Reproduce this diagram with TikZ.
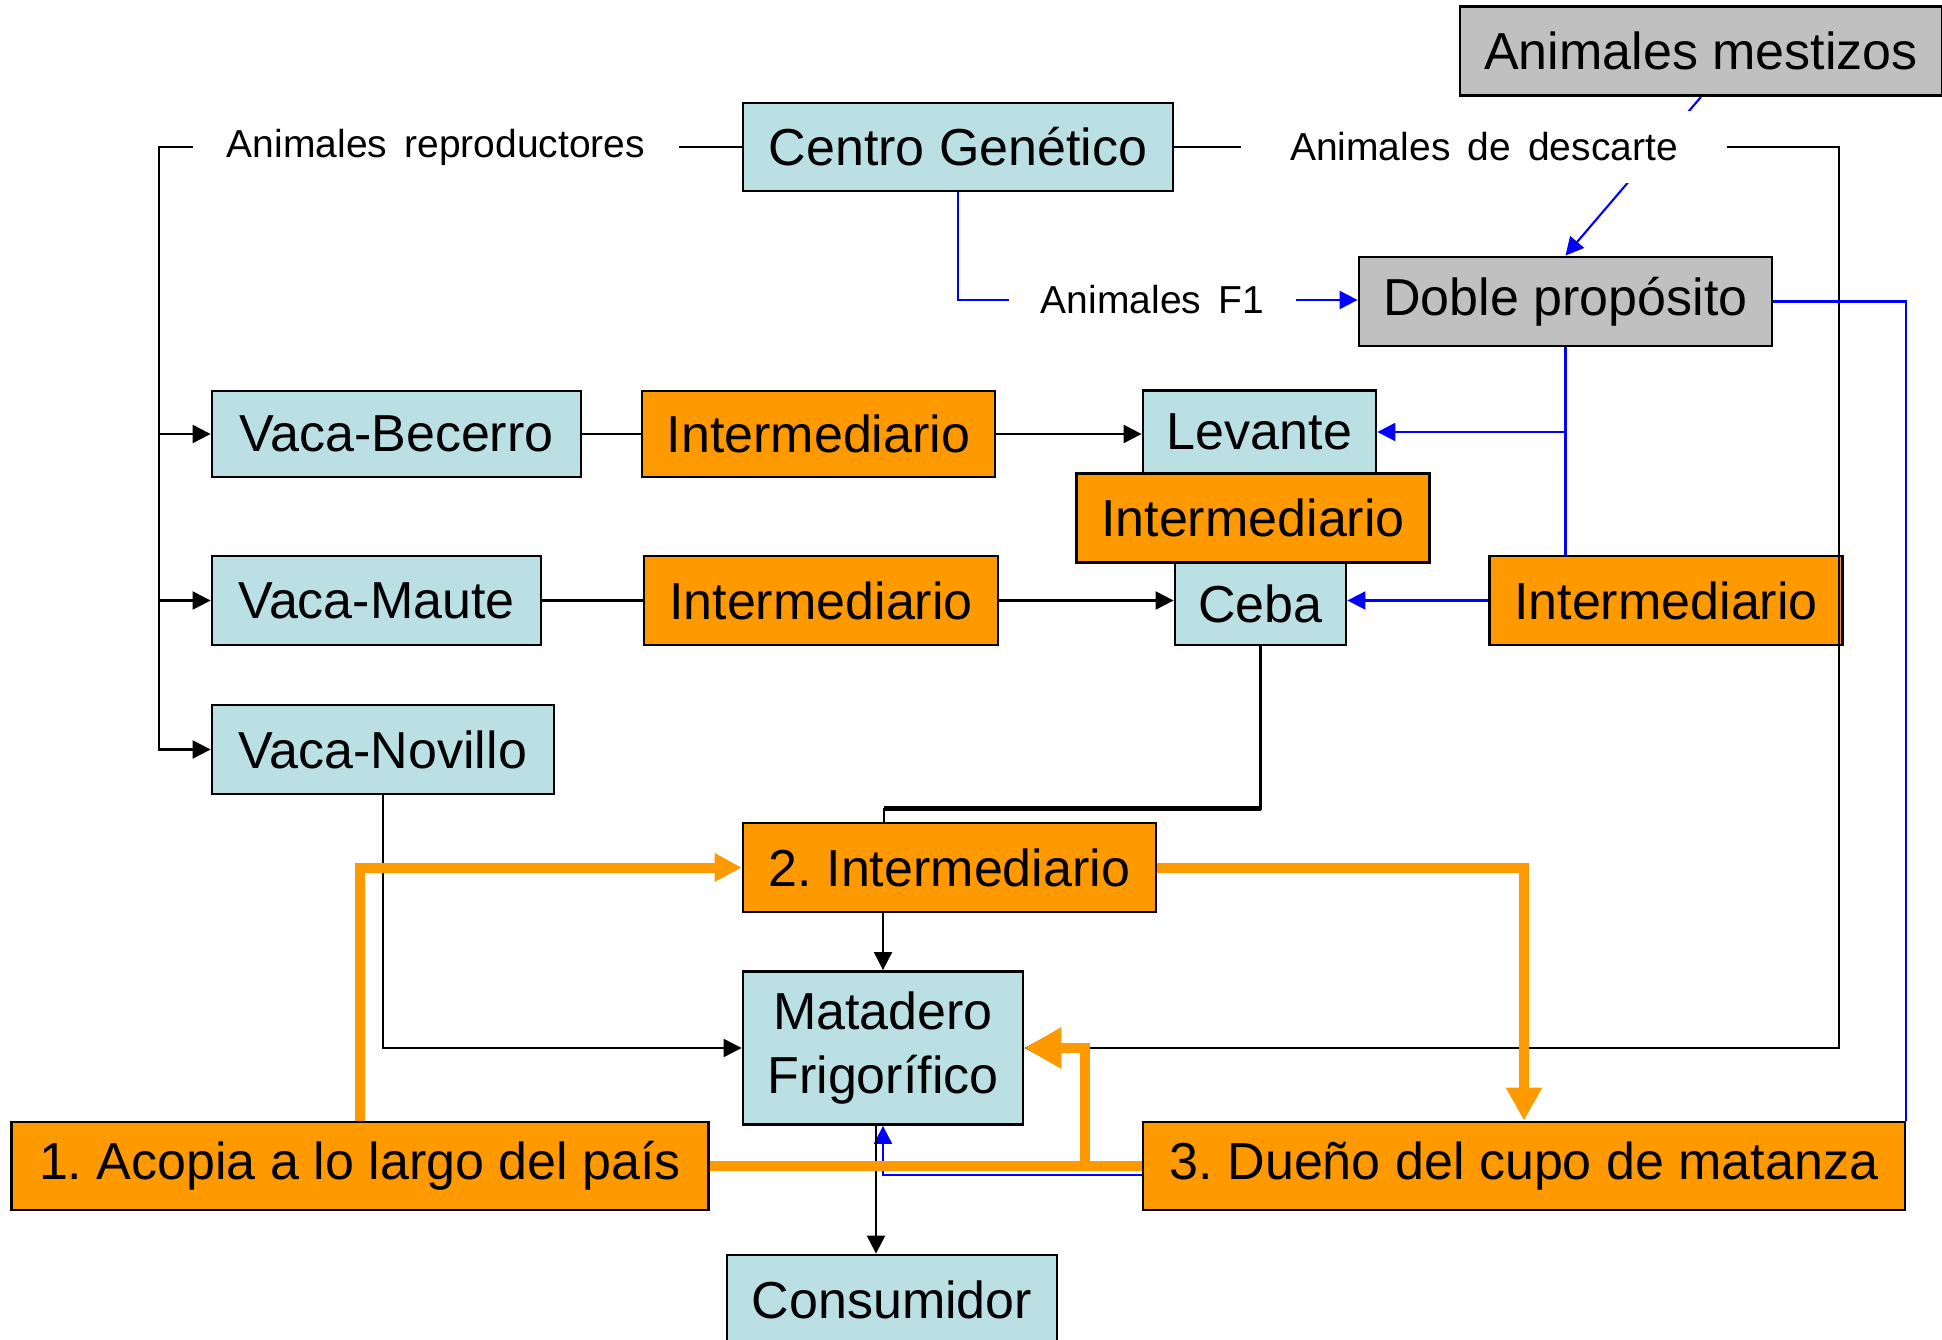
\documentclass[tikz,border=0pt]{standalone}
\usepackage{fontspec}
\setmainfont{Liberation Sans}
\usetikzlibrary{arrows.meta,backgrounds}
\definecolor{celeste}{HTML}{BBE0E3}
\definecolor{naranja}{HTML}{FF9900}
\definecolor{gris}{HTML}{C0C0C0}
\newcommand{\grande}{\fontsize{14.8}{18.2}\selectfont\frenchspacing}
\newcommand{\chico}{\fontsize{11.1}{13}\selectfont\spaceskip=0.44em}

\begin{document}
\begin{tikzpicture}[>={Triangle[length=0.18cm,width=0.18cm]},
  caja/.style={draw, rectangle, line width=0.8pt, inner sep=0pt, minimum height=0.88cm, font=\grande},
  etiqueta/.style={fill=white, inner sep=0pt, minimum height=0.72cm, font=\chico},
  linea/.style={line width=0.6pt},
  azul/.style={line width=0.6pt, blue},
  naranjo/.style={line width=0.1cm, naranja}]

\useasboundingbox (0,0) rectangle (19.42,-13.40);

\node(AM) at (17.01,-0.51)[caja, fill=gris, minimum width=4.82cm, minimum height=0.89cm]{Animales mestizos};
\node(CG) at (9.58,-1.47)[caja, fill=celeste, minimum width=4.30cm]{Centro Genético};
\node(DP) at (15.655,-3.015)[caja, fill=gris, minimum width=4.13cm, minimum height=0.89cm]{Doble propósito};

\node(AR) at (4.36,-1.47)[etiqueta, minimum width=4.84cm]{Animales reproductores};
\node(AD) at (14.84,-1.47)[etiqueta, minimum width=4.84cm]{Animales de descarte};
\node(F1) at (11.525,-3.00)[etiqueta, minimum width=2.85cm]{Animales F1};

\node(VB) at (3.965,-4.34)[caja, fill=celeste, minimum width=3.69cm, minimum height=0.86cm]{Vaca-Becerro};
\node(I1) at (8.185,-4.34)[caja, fill=naranja, minimum width=3.53cm, minimum height=0.86cm]{Intermediario};
\node(LE) at (12.595,-4.32)[caja, fill=celeste, minimum width=2.33cm, minimum height=0.83cm]{Levante};

\node(VM) at (3.765,-6.005)[caja, fill=celeste, minimum width=3.29cm, minimum height=0.89cm]{Vaca-Maute};
\node(I2) at (8.21,-6.005)[caja, fill=naranja, minimum width=3.54cm, minimum height=0.89cm]{Intermediario};
\node(CE) at (12.605,-6.035)[caja, fill=celeste, minimum width=1.71cm, minimum height=0.83cm]{Ceba};
\node(I4) at (16.66,-6.005)[caja, fill=naranja, minimum width=3.53cm, minimum height=0.89cm]{Intermediario};
\node(I3) at (12.53,-5.18)[caja, fill=naranja, minimum width=3.53cm, minimum height=0.885cm]{Intermediario};

\node(VN) at (3.83,-7.495)[caja, fill=celeste, minimum width=3.42cm, minimum height=0.89cm]{Vaca-Novillo};
\node(IN) at (9.495,-8.675)[caja, fill=naranja, minimum width=4.13cm, minimum height=0.89cm]{2. Intermediario};
\node(MF) at (8.83,-10.48)[caja, fill=celeste, align=center, minimum width=2.80cm, minimum height=1.53cm]{Matadero\\Frigorífico};
\node(AC) at (3.60,-11.66)[caja, fill=naranja, minimum width=6.97cm]{1. Acopia a lo largo del país};
\node(DC) at (15.24,-11.66)[caja, fill=naranja, minimum width=7.62cm]{3. Dueño del cupo de matanza};
\node(CO) at (8.92,-12.995)[caja, fill=celeste, minimum width=3.30cm, minimum height=0.89cm]{Consumidor};

\coordinate(R) at (1.594,-1.47);
\coordinate(D) at (18.39,-1.47);
\coordinate(C) at (8.837,-8.086);
\coordinate(J) at (10.845,-11.66);
\coordinate(M) at ([xshift=-0.07cm]MF.south);
\coordinate(B) at ([yshift=-0.086cm]DC.west);

\begin{pgfonlayer}{background}
\draw[azul, ->](AM.south)--(DP.north);
\end{pgfonlayer}

\draw[linea](CG.west)--(AR.east);
\draw[linea, ->](AR.west)--(R)|-(VN.west);
\draw[linea, ->](R|-VB.west)--(VB.west);
\draw[linea, ->](R|-VM.west)--(VM.west);
\draw[linea](CG.east)--(AD.west);
\draw[linea, ->](AD.east)--(D)|-(MF.east);

\draw[azul](CG.south)|-(F1.west);
\draw[azul, ->](F1.east)--(F1.east-|DP.west);
\draw[azul](DP.south)--(DP.south|-I4.north);
\draw[azul, ->](DP.south|-LE.east)--(LE.east);
\draw[azul, ->](I4.west)--(I4.west-|CE.east);
\draw[azul](DP.east)-|(DC.north east);
\draw[azul, ->](B)-|(MF.south);

\draw[linea](VB.east)--(I1.west);
\draw[linea, ->](I1.east)--(I1.east-|LE.west);
\draw[linea](VM.east)--(I2.west);
\draw[linea, ->](I2.east)--(I2.east-|CE.west);
\draw[linea](CE.south)|-(C)--(C|-IN.north);
\draw[line width=1.5pt](C)--(C-|CE.south);
\draw[linea, ->](MF.north|-IN.south)--(MF.north);
\draw[linea, ->](VN.south)|-(MF.west);
\draw[linea, ->](M)--(M|-CO.north);

\draw[naranjo, -{Triangle[length=0.27cm,width=0.27cm]}](AC.north)|-(IN.west);
\draw[naranjo, -{Triangle[length=0.33cm,width=0.34cm]}](IN.east)-|(DC.north);
\draw[naranjo](AC.east)--(DC.west);
\draw[naranjo, -{Triangle[length=0.37cm,width=0.39cm]}](J)|-(MF.east);

\end{tikzpicture}
\end{document}
